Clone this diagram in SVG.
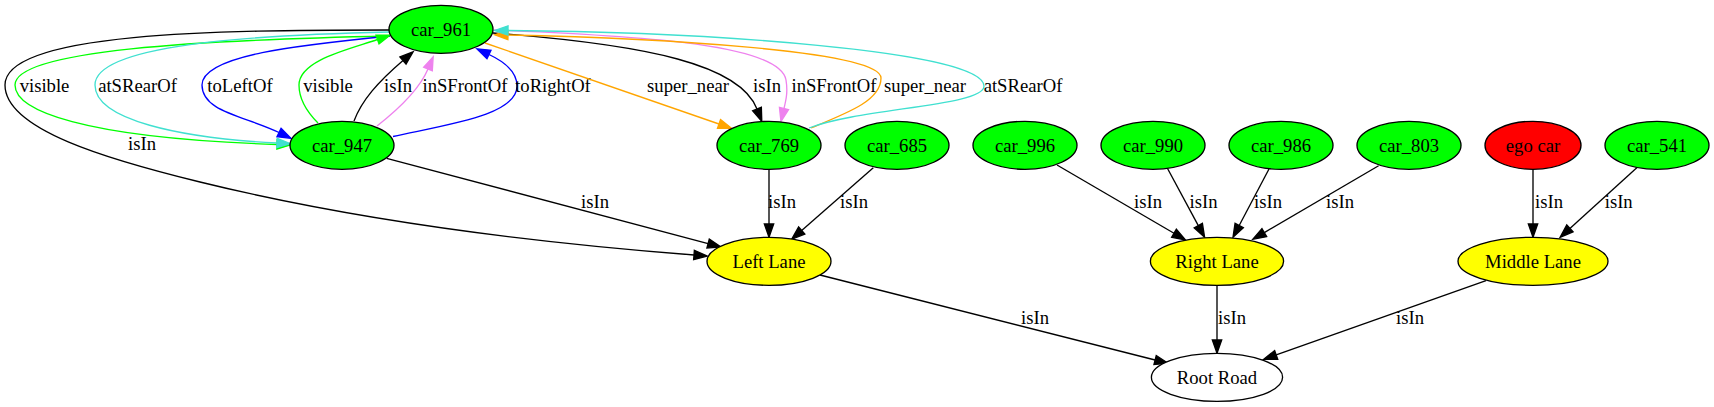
<svg xmlns="http://www.w3.org/2000/svg" width="1714" height="407" viewBox="0 0 1714 407">
<style>
text{font-family:"Liberation Serif","Times New Roman",serif;font-size:18.67px;fill:#000;text-anchor:middle}
.n ellipse{stroke:#000;stroke-width:1.33}
.g{fill:#00ff00}.y{fill:#ffff00}.r{fill:#ff0000}.w{fill:#fff}
.e path{fill:none;stroke-width:1.33}
.k{stroke:#000;marker-end:url(#ak)}
.gr{stroke:#00ff00;marker-end:url(#ag)}
.c{stroke:#40e0d0;marker-end:url(#ac)}
.b{stroke:#0000ff;marker-end:url(#ab)}
.v{stroke:#ee82ee;marker-end:url(#av)}
.o{stroke:#ffa500;marker-end:url(#ao)}
</style>
<defs>
<marker id="ak" markerUnits="userSpaceOnUse" orient="auto" refX="0" refY="0" markerWidth="20" markerHeight="20" overflow="visible"><path d="M0,-4.67L13.3,0L0,4.67Z" fill="#000" stroke="#000" stroke-width="1.33"/></marker>
<marker id="ag" markerUnits="userSpaceOnUse" orient="auto" refX="0" refY="0" markerWidth="20" markerHeight="20" overflow="visible"><path d="M0,-4.67L13.3,0L0,4.67Z" fill="#00ff00" stroke="#00ff00" stroke-width="1.33"/></marker>
<marker id="ac" markerUnits="userSpaceOnUse" orient="auto" refX="0" refY="0" markerWidth="20" markerHeight="20" overflow="visible"><path d="M0,-4.67L13.3,0L0,4.67Z" fill="#40e0d0" stroke="#40e0d0" stroke-width="1.33"/></marker>
<marker id="ab" markerUnits="userSpaceOnUse" orient="auto" refX="0" refY="0" markerWidth="20" markerHeight="20" overflow="visible"><path d="M0,-4.67L13.3,0L0,4.67Z" fill="#0000ff" stroke="#0000ff" stroke-width="1.33"/></marker>
<marker id="av" markerUnits="userSpaceOnUse" orient="auto" refX="0" refY="0" markerWidth="20" markerHeight="20" overflow="visible"><path d="M0,-4.67L13.3,0L0,4.67Z" fill="#ee82ee" stroke="#ee82ee" stroke-width="1.33"/></marker>
<marker id="ao" markerUnits="userSpaceOnUse" orient="auto" refX="0" refY="0" markerWidth="20" markerHeight="20" overflow="visible"><path d="M0,-4.67L13.3,0L0,4.67Z" fill="#ffa500" stroke="#ffa500" stroke-width="1.33"/></marker>
</defs>
<rect x="0" y="0" width="1714" height="407" fill="#fff"/>
<g id="connectors" class="e">
<path class="k" d="M389,30 C220,30 5,32 5,85 C5,130 110,160 200,182 C330,214 500,240 694,255"/>
<text x="142" y="150">isIn</text>
<path class="gr" d="M390,36 C200,40 15,50 15,85 C15,110 80,138 277,144.5"/>
<text x="44.5" y="92">visible</text>
<path class="c" d="M390,32 C250,35 95,45 95,85 C95,120 180,138 277,143"/>
<text x="137.5" y="92">atSRearOf</text>
<path class="b" d="M390,36 C300,45 202,55 202,85 C202,112 245,116 279,132.5"/>
<text x="240" y="92">toLeftOf</text>
<path class="gr" d="M318,123 C305,110 299,98 299,85 C299,60 350,49 377.5,39.5"/>
<text x="328" y="92">visible</text>
<path class="k" d="M354,121 C362,100 378,82 403,60.5"/>
<text x="398" y="92">isIn</text>
<path class="v" d="M377,126 C400,108 420,88 428,69"/>
<text x="465" y="92">inSFrontOf</text>
<path class="b" d="M393,136.5 C450,124 517,115 517,86 C517,72 505,62 489,54.5"/>
<text x="553" y="92">toRightOf</text>
<path class="o" d="M485,43 L719,124"/>
<text x="688" y="92">super_near</text>
<path class="k" d="M493,33 C650,45 740,65 757,109"/>
<text x="767" y="92">isIn</text>
<path class="v" d="M494,30 C650,36 780,45 786,80 C788,92 786,100 784,108.5"/>
<text x="834" y="92">inSFrontOf</text>
<path class="o" d="M811,128 C850,112 881,100 881,78 C881,50 650,38 508,35"/>
<text x="925" y="92">super_near</text>
<path class="c" d="M809,128 C860,108 985,106 984,86 C983,50 700,32 508,30.5"/>
<text x="1023" y="92">atSRearOf</text>
<path class="k" d="M386.7,158.3 L708.1,243.6"/>
<text x="595" y="208">isIn</text>
<path class="k" d="M769,169.3 L769,224"/>
<text x="782" y="208">isIn</text>
<path class="k" d="M873.3,167.7 L801.7,230.5"/>
<text x="854" y="208">isIn</text>
<path class="k" d="M1057,165 L1174,233.3"/>
<text x="1148" y="208">isIn</text>
<path class="k" d="M1167.4,168.3 L1198.3,225.6"/>
<text x="1203.5" y="208">isIn</text>
<path class="k" d="M1269,169 L1239.2,225.5"/>
<text x="1268" y="208">isIn</text>
<path class="k" d="M1378.6,165.7 L1264.3,232.6"/>
<text x="1340" y="208">isIn</text>
<path class="k" d="M1533,169.3 L1533,224"/>
<text x="1549" y="208">isIn</text>
<path class="k" d="M1636.8,167.7 L1569.9,228.4"/>
<text x="1618.7" y="208">isIn</text>
<path class="k" d="M820,275 L1155.1,360"/>
<text x="1035" y="324">isIn</text>
<path class="k" d="M1217,285.3 L1217,340"/>
<text x="1232" y="324">isIn</text>
<path class="k" d="M1486,280.7 L1276.2,354.9"/>
<text x="1410" y="324">isIn</text>
</g>
<g id="car_961" class="n"><ellipse class="g" cx="441" cy="29.3" rx="52" ry="24"/><text x="441" y="35.5">car_961</text></g>
<g id="car_947" class="n"><ellipse class="g" cx="342" cy="145.3" rx="52" ry="24"/><text x="342" y="151.5">car_947</text></g>
<g id="car_769" class="n"><ellipse class="g" cx="769" cy="145.3" rx="52" ry="24"/><text x="769" y="151.5">car_769</text></g>
<g id="car_685" class="n"><ellipse class="g" cx="897" cy="145.3" rx="52" ry="24"/><text x="897" y="151.5">car_685</text></g>
<g id="car_996" class="n"><ellipse class="g" cx="1025" cy="145.3" rx="52" ry="24"/><text x="1025" y="151.5">car_996</text></g>
<g id="car_990" class="n"><ellipse class="g" cx="1153" cy="145.3" rx="52" ry="24"/><text x="1153" y="151.5">car_990</text></g>
<g id="car_986" class="n"><ellipse class="g" cx="1281" cy="145.3" rx="52" ry="24"/><text x="1281" y="151.5">car_986</text></g>
<g id="car_803" class="n"><ellipse class="g" cx="1409" cy="145.3" rx="52" ry="24"/><text x="1409" y="151.5">car_803</text></g>
<g id="ego_car" class="n"><ellipse class="r" cx="1533" cy="145.3" rx="48" ry="24"/><text x="1533" y="151.5">ego car</text></g>
<g id="car_541" class="n"><ellipse class="g" cx="1657" cy="145.3" rx="52" ry="24"/><text x="1657" y="151.5">car_541</text></g>
<g id="left_lane" class="n"><ellipse class="y" cx="769" cy="261.3" rx="62" ry="24"/><text x="769" y="267.5">Left Lane</text></g>
<g id="right_lane" class="n"><ellipse class="y" cx="1217" cy="261.3" rx="66.6" ry="24"/><text x="1217" y="267.5">Right Lane</text></g>
<g id="middle_lane" class="n"><ellipse class="y" cx="1533" cy="261.3" rx="75" ry="24"/><text x="1533" y="267.5">Middle Lane</text></g>
<g id="root_road" class="n"><ellipse class="w" cx="1217" cy="377.3" rx="65.6" ry="24"/><text x="1217" y="383.5">Root Road</text></g>
</svg>
